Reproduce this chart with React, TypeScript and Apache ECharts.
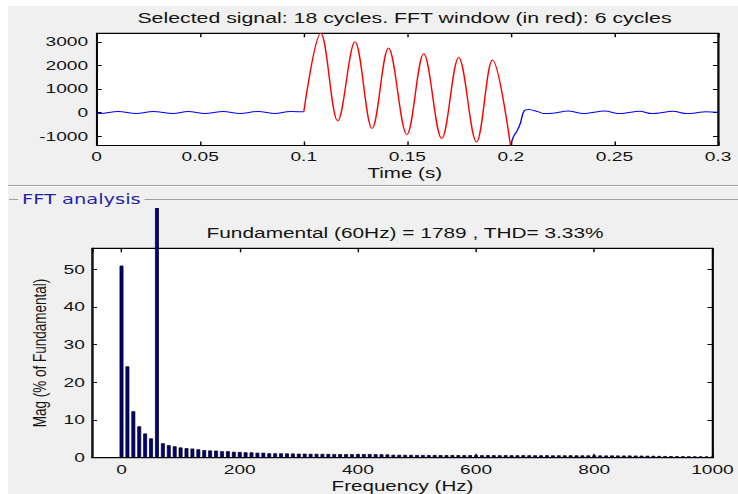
import React, { useEffect, useRef } from "react";
import * as echarts from "echarts";

// ---------- data ----------
const topTitle = "Selected signal: 18 cycles. FFT window (in red): 6 cycles";
const bottomTitle = "Fundamental (60Hz) = 1789 , THD= 3.33%";

// signal before FFT window (blue)
const preTime = [0, 0.0015, 0.0103, 0.0192, 0.0273, 0.0369, 0.0442, 0.0522, 0.0611, 0.0692, 0.078, 0.0861, 0.0934, 0.1];
const preValue = [-35, -40, 40, -40, 45, -40, 45, -40, 45, -40, 45, -40, 40, 30];

// FFT window (red)
const winTime = [0.1, 0.1082, 0.1164, 0.1247, 0.133, 0.1409, 0.1498, 0.1579, 0.1666, 0.1748, 0.1834, 0.1911, 0.1998];
const winValue = [30, 3362, -357, 3004, -681, 2736, -936, 2494, -1106, 2340, -1251, 2226, -1390];

// signal after FFT window (blue)
const postTime = [0.1998, 0.2014, 0.203, 0.2046, 0.2063, 0.2087, 0.213, 0.2157, 0.22, 0.2277, 0.235, 0.2454, 0.2519, 0.2623, 0.268, 0.2784, 0.2849, 0.2945, 0.3];
const postValue = [-1390, -1000, -780, -450, 60, 130, 40, -40, -30, 65, -45, 65, -45, 55, -45, 55, -45, 35, 10];

// FFT spectrum
const freqHz = [
  0, 10, 20, 30, 40, 50, 60, 70, 80, 90,
  100, 110, 120, 130, 140, 150, 160, 170, 180, 190,
  200, 210, 220, 230, 240, 250, 260, 270, 280, 290,
  300, 310, 320, 330, 340, 350, 360, 370, 380, 390,
  400, 410, 420, 430, 440, 450, 460, 470, 480, 490,
  500, 510, 520, 530, 540, 550, 560, 570, 580, 590,
  600, 610, 620, 630, 640, 650, 660, 670, 680, 690,
  700, 710, 720, 730, 740, 750, 760, 770, 780, 790,
  800, 810, 820, 830, 840, 850, 860, 870, 880, 890,
  900, 910, 920, 930, 940, 950, 960, 970, 980, 990,
  1000,
];
const magPct = [
  50.9, 24.2, 12.3, 8.3, 6.4, 5.1, 100, 3.8, 3.3, 3.0,
  2.7, 2.5, 2.4, 2.2, 2.0, 1.9, 1.85, 1.7, 1.7, 1.55,
  1.5, 1.4, 1.4, 1.3, 1.3, 1.15, 1.15, 1.15, 1.12, 1.1,
  1.05, 1.05, 1.0, 1.0, 1.0, 0.98, 0.95, 0.95, 0.93, 0.92,
  0.92, 0.95, 0.95, 0.9, 0.9, 0.85, 0.75, 0.75, 0.72, 0.72,
  0.7, 0.7, 0.68, 0.7, 0.68, 0.66, 0.68, 0.66, 0.65, 0.66,
  0.65, 0.64, 0.66, 0.64, 0.63, 0.65, 0.63, 0.62, 0.64, 0.62,
  0.62, 0.61, 0.63, 0.6, 0.61, 0.6, 0.62, 0.6, 0.59, 0.6,
  0.6, 0.58, 0.57, 0.58, 0.56, 0.55, 0.56, 0.54, 0.53, 0.5,
  0.48, 0.45, 0.42, 0.4, 0.38, 0.36, 0.35, 0.34, 0.33, 0.32,
  0.3,
];

// ---------- layout ----------
const W = 520; // drawing width, stretched horizontally to 738
const S = 738 / W;
const TOP_H = 208;
const BOT_H = 494 - TOP_H;
const FONT = "'Liberation Sans', Arial, sans-serif";
const TXT = "#141414";

const pairs = (xs: number[], ys: number[]) => xs.map((x, i) => [x, ys[i]]);

const tickStyle = (len: number) => ({ show: true, inside: true, length: len, lineStyle: { color: "#000", width: 1 } });
const boxLine = { show: true, onZero: false, lineStyle: { color: "#000", width: 1 } };

const centered = (text: string, size: number) => ({
  text, font: `${size}px ${FONT}`, fill: TXT,
  align: "center", verticalAlign: "middle", textAlign: "center", textVerticalAlign: "middle",
});

function topOption(): any {
  const lbl = { color: TXT, fontSize: 13.5, fontFamily: FONT };
  return {
    animation: false,
    grid: { left: 68.1, right: 14.1, top: 33.3, height: 112.2, show: true, backgroundColor: "#fff", borderColor: "#000", borderWidth: 1 },
    xAxis: [
      {
        type: "value", min: 0, max: 0.3, interval: 0.05, position: "bottom",
        axisLine: boxLine, splitLine: { show: false }, axisTick: tickStyle(4),
        axisLabel: { ...lbl, margin: 4, formatter: (v: number) => String(Math.round(v * 1000) / 1000) },
      },
      {
        type: "value", min: 0, max: 0.3, interval: 0.05, position: "top",
        axisLine: boxLine, splitLine: { show: false }, axisTick: tickStyle(4), axisLabel: { show: false },
      },
    ],
    yAxis: [
      {
        type: "value", min: -1400, max: 3365, minInterval: 1000, maxInterval: 1000, position: "left",
        axisLine: boxLine, splitLine: { show: false }, axisTick: tickStyle(3.5),
        axisLabel: { ...lbl, margin: 6, showMinLabel: false, showMaxLabel: false, formatter: (v: number) => String(v) },
      },
      {
        type: "value", min: -1400, max: 3365, minInterval: 1000, maxInterval: 1000, position: "right",
        axisLine: boxLine, splitLine: { show: false }, axisTick: tickStyle(3.5), axisLabel: { show: false },
      },
    ],
    series: [
      { type: "line", data: pairs(preTime, preValue), showSymbol: false, smooth: 0.36, lineStyle: { color: "#0000ff", width: 1 }, itemStyle: { color: "#0000ff" } },
      { type: "line", data: pairs(postTime, postValue), showSymbol: false, smooth: 0.3, lineStyle: { color: "#0000ff", width: 1 }, itemStyle: { color: "#0000ff" } },
      { type: "line", data: pairs(winTime, winValue), showSymbol: false, smooth: 0.36, lineStyle: { color: "#ff0000", width: 1 }, itemStyle: { color: "#ff0000" } },
    ],
    graphic: [
      { type: "text", x: 285, y: 18, style: centered(topTitle, 15) },
      { type: "text", x: 285.2, y: 173, style: centered("Time (s)", 14.5) },
      { type: "line", shape: { x1: 5.6, y1: 185.5, x2: W, y2: 185.5 }, style: { stroke: "#a0a0a0", lineWidth: 1 } },
      { type: "line", shape: { x1: 5.6, y1: 186.5, x2: W, y2: 186.5 }, style: { stroke: "#ffffff", lineWidth: 1 } },
      { type: "line", shape: { x1: 6.3, y1: 199.5, x2: 12.7, y2: 199.5 }, style: { stroke: "#a0a0a0", lineWidth: 1 } },
      { type: "line", shape: { x1: 101.8, y1: 199.5, x2: W, y2: 199.5 }, style: { stroke: "#a0a0a0", lineWidth: 1 } },
      { type: "text", x: 15.5, y: 199.5, style: { text: "FFT analysis", font: "13.7px 'DejaVu Sans', sans-serif", fill: "#2323a8", align: "left", verticalAlign: "middle", textAlign: "left", textVerticalAlign: "middle" } },
    ],
  };
}

function bottomOption(): any {
  const lbl = { color: TXT, fontSize: 13.5, fontFamily: FONT };
  return {
    animation: false,
    grid: { left: 64.8, right: 12.2, top: 40.3, bottom: 36.3, show: true, backgroundColor: "#fff", borderColor: "#000", borderWidth: 1 },
    xAxis: [
      {
        type: "value", min: -50, max: 1000, minInterval: 200, maxInterval: 200, position: "bottom",
        axisLine: boxLine, splitLine: { show: false }, axisTick: tickStyle(4),
        axisLabel: { ...lbl, margin: 4.5, showMinLabel: false, formatter: (v: number) => String(v) },
      },
      {
        type: "value", min: -50, max: 1000, minInterval: 200, maxInterval: 200, position: "top",
        axisLine: boxLine, splitLine: { show: false }, axisTick: tickStyle(4), axisLabel: { show: false },
      },
    ],
    yAxis: [
      {
        type: "value", min: 0, max: 55.5, interval: 10, position: "left",
        axisLine: boxLine, splitLine: { show: false }, axisTick: tickStyle(3.5),
        axisLabel: { ...lbl, margin: 5, showMaxLabel: false, formatter: (v: number) => String(v) },
      },
      {
        type: "value", min: 0, max: 55.5, interval: 10, position: "right",
        axisLine: boxLine, splitLine: { show: false }, axisTick: tickStyle(3.5), axisLabel: { show: false },
      },
    ],
    series: [
      {
        type: "bar", data: pairs(freqHz, magPct), barWidth: 2.8, clip: false, z: 5,
        itemStyle: { color: "#000080", borderColor: "#000", borderWidth: 0.6 },
      },
    ],
    graphic: [
      { type: "text", x: 285.4, y: 25, style: centered(bottomTitle, 14.7) },
      { type: "text", x: 28.2, y: 145, rotation: Math.PI / 2, style: centered("Mag (% of Fundamental)", 13.5) },
      { type: "text", x: 283.6, y: 278.5, style: centered("Frequency (Hz)", 14.5) },
    ],
  };
}

export default function App() {
  const topRef = useRef<HTMLDivElement>(null);
  const botRef = useRef<HTMLDivElement>(null);

  useEffect(() => {
    const top = echarts.init(topRef.current!, null, { renderer: "svg" });
    const bot = echarts.init(botRef.current!, null, { renderer: "svg" });
    top.setOption(topOption());
    bot.setOption(bottomOption());
    return () => {
      top.dispose();
      bot.dispose();
    };
  }, []);

  return (
    <div style={{ position: "fixed", left: 0, top: 0, width: 738, height: 494, background: "#fff", overflow: "hidden" }}>
      <div style={{ position: "absolute", left: 8, top: 6, right: 0, bottom: 0, background: "#f0f0f0" }} />
      <div style={{ position: "absolute", left: 0, top: 0, width: W, height: 494, transform: `scaleX(${S})`, transformOrigin: "0 0" }}>
        <div ref={topRef} style={{ position: "absolute", left: 0, top: 0, width: W, height: TOP_H }} />
        <div ref={botRef} style={{ position: "absolute", left: 0, top: TOP_H, width: W, height: BOT_H, overflow: "hidden" }} />
      </div>
    </div>
  );
}
